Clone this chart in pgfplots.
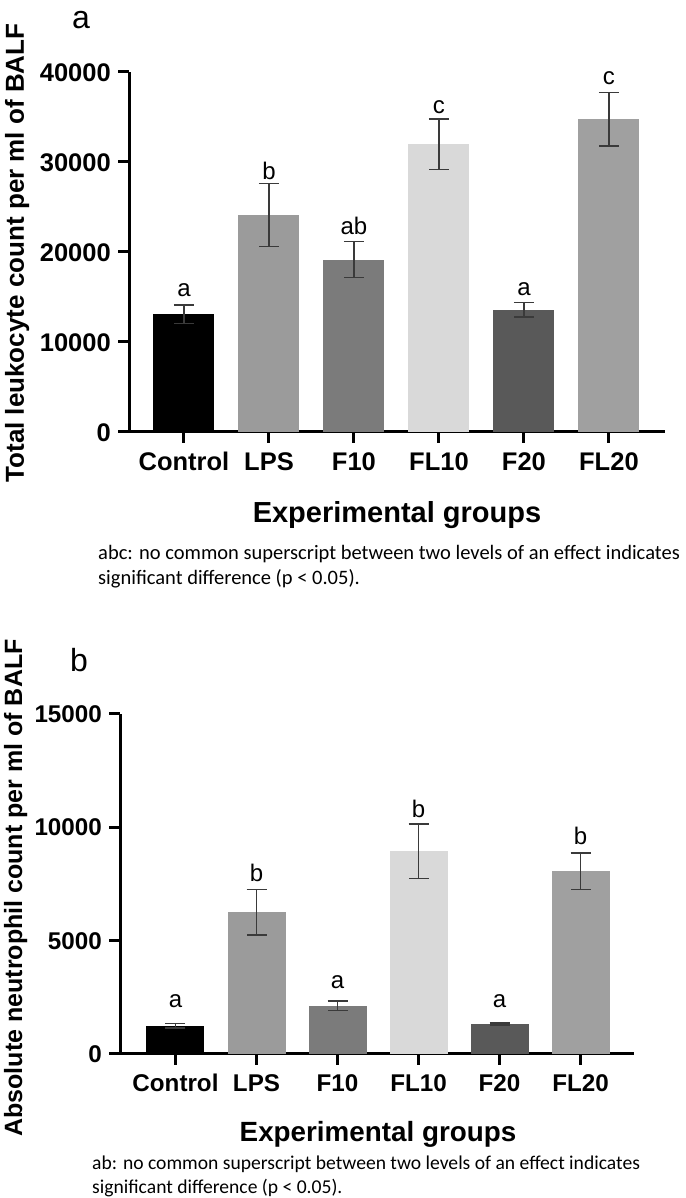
\documentclass[border=0pt]{standalone}
\usepackage{fontspec}
\setmainfont{Liberation Sans}
\newfontfamily\calibri{Carlito}
\usepackage{pgfplots}
\pgfplotsset{compat=1.18}
\definecolor{cCtrl}{HTML}{000000}
\definecolor{cLPS}{HTML}{9B9B9B}
\definecolor{cFten}{HTML}{7B7B7B}
\definecolor{cFLten}{HTML}{D9D9D9}
\definecolor{cFtw}{HTML}{595959}
\definecolor{cFLtw}{HTML}{A0A0A0}
\definecolor{errc}{HTML}{3A3A3A}
\pgfplotsset{
  mybar/.style={ybar, bar width=#1, bar shift=0pt, draw=none,
    /pgfplots/error bars/y dir=both, /pgfplots/error bars/y explicit,
    /pgfplots/error bars/error bar style={line width=1.4pt, color=errc},
    /pgfplots/error bars/error mark options={rotate=90, mark size=10pt, line width=1.4pt, color=errc}},
  myaxis/.style={scale only axis, axis x line=bottom, axis y line=left,
    axis line style={line width=3pt, -}, tick style={line width=3pt, black},
    tick align=outside, major tick length=11pt, minor tick num=0,
    xtick={0,1,2,3,4,5}, xticklabels={Control,LPS,F10,FL10,F20,FL20},
    ymin=0, clip=false, scaled y ticks=false,
    /pgf/number format/assume math mode=true,
    yticklabel style={/pgf/number format/fixed, /pgf/number format/1000 sep={},
      font=\fontsize{#1}{#1}\selectfont\bfseries, anchor=east, inner sep=0pt, text height=0.716*#1 pt, text depth=0pt, xshift=-7pt},
    xticklabel style={font=\fontsize{#1}{#1}\selectfont\bfseries, anchor=north, inner sep=0pt, text height=0.716*#1 pt, text depth=0pt, yshift=-9pt},
    letters/.style={draw=none, mark=none, nodes near coords, point meta=explicit symbolic,
      every node near coord/.append style={anchor=base, inner sep=0pt, font=\fontsize{24}{24}\selectfont}}
  }
}
\begin{document}
\begin{tikzpicture}
\fill[white] (0,0) rectangle (685pt,1198pt);
\useasboundingbox (0,0) rectangle (685pt,1198pt);
% ---------- panel a ----------
\begin{axis}[myaxis=25.5, at={(129pt,766pt)}, anchor=south west,
  width=536pt, height=360pt, xmin=-0.647, xmax=5.66, ymax=40000,
  ytick={0,10000,20000,30000,40000}]
\addplot[fill=cCtrl, mybar=61pt] coordinates {(0,13080) +- (0,1030)};
\addplot[fill=cLPS, mybar=61pt] coordinates {(1,24110) +- (0,3480)};
\addplot[fill=cFten, mybar=61pt] coordinates {(2,19140) +- (0,2000)};
\addplot[fill=cFLten, mybar=61pt] coordinates {(3,31970) +- (0,2800)};
\addplot[fill=cFtw, mybar=61pt] coordinates {(4,13590) +- (0,830)};
\addplot[fill=cFLtw, mybar=61pt] coordinates {(5,34740) +- (0,2980)};
\addplot[letters] coordinates {(0,15000)[a] (1,28000)[b] (2,21890)[ab] (3,35440)[c] (4,15140)[a] (5,38560)[c]};
\end{axis}
\node[anchor=base, rotate=90, inner sep=0pt] at (24pt,945pt) {\fontsize{26}{26}\selectfont\bfseries Total leukocyte count per ml of BALF};
\node[anchor=base, inner sep=0pt] at (397pt,675pt) {\fontsize{29}{29}\selectfont\bfseries Experimental groups};
\node[anchor=base west, inner sep=0pt] at (98pt,638pt) {\calibri\fontsize{20.5}{20.5}\selectfont abc: no common superscript between two levels of an effect indicates};
\node[anchor=base west, inner sep=0pt] at (98pt,613pt) {\calibri\fontsize{20.5}{20.5}\selectfont significant difference (p < 0.05).};
\node[anchor=base west, inner sep=0pt, text height=17pt, text depth=0pt] at (72pt,1169pt) {\fontsize{32}{32}\selectfont a};
% ---------- panel b ----------
\begin{axis}[myaxis=24.2, at={(120pt,144pt)}, anchor=south west,
  width=514pt, height=340pt, xmin=-0.685, xmax=5.66, ymax=15000,
  ytick={0,5000,10000,15000}]
\addplot[fill=cCtrl, mybar=58pt] coordinates {(0,1240) +- (0,100)};
\addplot[fill=cLPS, mybar=58pt] coordinates {(1,6250) +- (0,1000)};
\addplot[fill=cFten, mybar=58pt] coordinates {(2,2130) +- (0,200)};
\addplot[fill=cFLten, mybar=58pt] coordinates {(3,8955) +- (0,1200)};
\addplot[fill=cFtw, mybar=58pt] coordinates {(4,1323) +- (0,50)};
\addplot[fill=cFLtw, mybar=58pt] coordinates {(5,8060) +- (0,800)};
\addplot[letters] coordinates {(0,2073)[a] (1,7631)[b] (2,2911)[a] (3,10454)[b] (4,2073)[a] (5,9263)[b]};
\end{axis}
\node[anchor=base, rotate=90, inner sep=0pt] at (22pt,310pt) {\fontsize{25}{25}\selectfont\bfseries Absolute neutrophil count per ml of BALF};
\node[anchor=base, inner sep=0pt] at (378pt,56pt) {\fontsize{27.8}{27.8}\selectfont\bfseries Experimental groups};
\node[anchor=base west, inner sep=0pt] at (92pt,28pt) {\calibri\fontsize{19.6}{19.6}\selectfont ab: no common superscript between two levels of an effect indicates};
\node[anchor=base west, inner sep=0pt] at (92pt,5pt) {\calibri\fontsize{19.6}{19.6}\selectfont significant difference (p < 0.05).};
\node[anchor=base west, inner sep=0pt] at (70pt,526pt) {\fontsize{32}{32}\selectfont b};
\end{tikzpicture}
\end{document}
